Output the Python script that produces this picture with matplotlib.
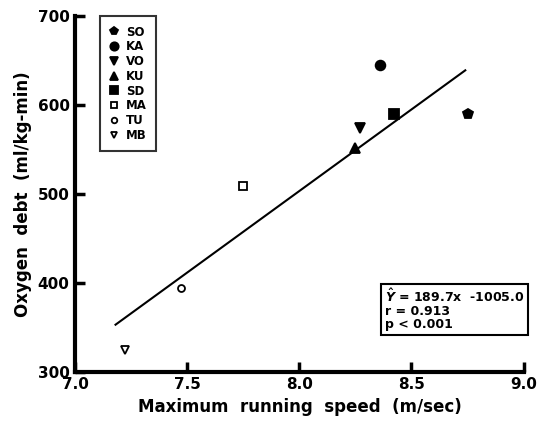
import numpy as np
import matplotlib
matplotlib.use('Agg')
import matplotlib.pyplot as plt
from matplotlib.lines import Line2D

# ----Data---------------------------------
subjects = ['SO', 'KA', 'VO', 'KU', 'SD', 'MA', 'TU', 'MB']
speed = [8.75, 8.36, 8.27, 8.25, 8.42, 7.75, 7.47, 7.22]      # m/sec
o2_debt = [590, 645, 574, 552, 590, 509, 394, 324]            # ml/kg-min
markers = ['p', 'o', 'v', '^', 's', 's', 'o', 'v']
filled = [True, True, True, True, True, False, False, False]
sizes = [7, 7, 7, 7, 7, 6, 5, 6]

# Regression line as drawn (ends)
line_x = [7.18, 8.74]
line_y = [353, 639]

x_ticks = [7.0, 7.5, 8.0, 8.5, 9.0]
x_labels = ['7.0', '7.5', '8.0', '8.5', '9.0']
y_ticks = [300, 400, 500, 600, 700]

plt.rcParams['font.family'] = 'DejaVu Sans'
plt.rcParams['font.weight'] = 'bold'

fig = plt.figure(figsize=(5.37, 4.23), dpi=100)
ax = fig.add_axes([0.140, 0.121, 0.835, 0.841])

# Scatter points
for i in range(len(subjects)):
    face = 'black' if filled[i] else 'white'
    ax.plot(speed[i], o2_debt[i], marker=markers[i], markersize=sizes[i],
            markerfacecolor=face, markeredgecolor='black',
            markeredgewidth=1.3, linestyle='none', zorder=3)

# Regression line
ax.plot(line_x, line_y, color='black', lw=1.5, zorder=2)

ax.set_xlim(7.0, 9.0)
ax.set_ylim(300, 700)
ax.set_xticks(x_ticks)
ax.set_xticklabels(x_labels)
ax.set_yticks(y_ticks)
ax.tick_params(direction='in', length=7, width=2.5, labelsize=11, pad=4)
for side in ['top', 'right']:
    ax.spines[side].set_visible(False)
for side in ['left', 'bottom']:
    ax.spines[side].set_linewidth(3)

ax.set_xlabel('Maximum  running  speed  (m/sec)', fontsize=12,
              fontweight='bold')
ax.set_ylabel('Oxygen  debt  (ml/kg-min)', fontsize=12, fontweight='bold',
              labelpad=4)

# Legend
handles = []
for i in range(len(subjects)):
    face = 'black' if filled[i] else 'white'
    handles.append(Line2D([], [], marker=markers[i], markersize=sizes[i] - 1,
                          markerfacecolor=face, markeredgecolor='black',
                          markeredgewidth=1.3, linestyle='none'))
leg = ax.legend(handles, subjects, loc='upper left',
                bbox_to_anchor=(0.055, 1.0), frameon=True, fancybox=False,
                edgecolor='black', fontsize=8.5, handlelength=0.8,
                handletextpad=0.6, labelspacing=0.15, borderpad=0.8,
                borderaxespad=0.0)
leg.get_frame().set_linewidth(1.5)
for t in leg.get_texts():
    t.set_fontweight('bold')

# Stats box
ax.text(0.69, 0.235,
        '$\\hat{Y}$ = 189.7x  -1005.0\nr = 0.913\np < 0.001',
        transform=ax.transAxes, fontsize=9, va='top', ha='left',
        linespacing=1.0,
        bbox=dict(boxstyle='square,pad=0.3', facecolor='white',
                  edgecolor='black', linewidth=1.5))

fig.savefig('out.png', dpi=100)
